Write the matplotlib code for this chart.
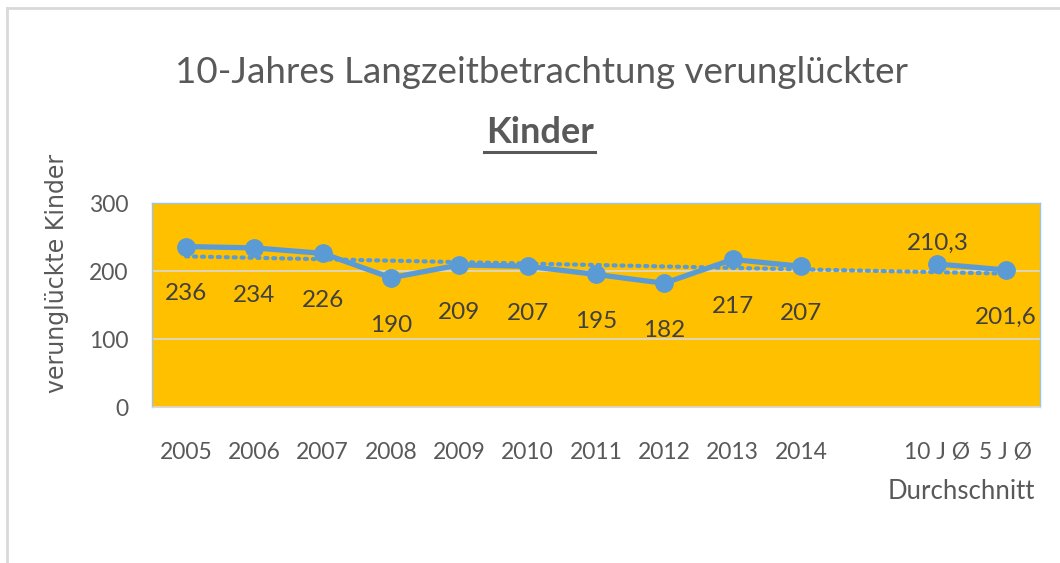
import numpy as np
import matplotlib
matplotlib.use("Agg")
import matplotlib.pyplot as plt
from matplotlib.lines import Line2D

# data
categories = ["2005", "2006", "2007", "2008", "2009", "2010", "2011",
              "2012", "2013", "2014", "", "10 J Ø", "5 J Ø"]
values = [236, 234, 226, 190, 209, 207, 195, 182, 217, 207, np.nan, 210.3, 201.6]
value_labels = ["236", "234", "226", "190", "209", "207", "195", "182",
                "217", "207", "", "210,3", "201,6"]
yticks = [0, 100, 200, 300]

BLUE = "#5B9BD5"
ORANGE = "#FFC000"
TXT = "#595959"
LBL = "#404040"

plt.rcParams["font.family"] = ["Lato", "DejaVu Sans"]

fig = plt.figure(figsize=(10.6, 5.63), dpi=100)
ax = fig.add_axes([0.1434, 0.277, 0.8376, 0.3624])
ax.set_facecolor(ORANGE)

x = np.arange(len(categories))
y = np.array(values, dtype=float)

# linear trendline over the existing points
ok = ~np.isnan(y)
k, d = np.polyfit(x[ok], y[ok], 1)
xt = np.array([x[ok][0], x[ok][-1]])
ax.plot(xt, k * xt + d, color=BLUE, lw=3.0, linestyle=(0, (0.5, 1.4)),
        dash_capstyle="round", zorder=2)

ax.plot(x, y, color=BLUE, lw=3.8, marker="o", markersize=12.5, zorder=3)

for xi, yi, s in zip(x, y, value_labels):
    if not s:
        continue
    off = 15 if s == "210,3" else -34
    ax.annotate(s, (xi, yi), xytext=(0, off), textcoords="offset points",
                ha="center", va="center", fontsize=17.5, color=LBL)

ax.set_xlim(-0.5, len(categories) - 0.5)
ax.set_ylim(0, 300)
ax.set_yticks(yticks)
ax.set_xticks(x)
ax.set_xticklabels(categories)
ax.tick_params(axis="x", length=0, pad=25, labelsize=16.5, labelcolor=TXT)
ax.tick_params(axis="y", length=0, pad=17, labelsize=16.5, labelcolor=TXT)
ax.yaxis.grid(True, color="#D9D9D9", lw=1.2)
ax.set_axisbelow(True)
for side in ["left", "top", "right"]:
    ax.spines[side].set_color("#9DC3E6")
    ax.spines[side].set_linewidth(1)
ax.spines["bottom"].set_color("#D9D9D9")

ax.text(0.911, -0.355, "Durchschnitt", transform=ax.transAxes, ha="center",
        va="top", fontsize=18.5, color=TXT)

fig.text(0.054, 0.515, "verunglückte Kinder", rotation=90, ha="center",
         va="center", fontsize=17, color=TXT, family="DejaVu Sans")

fig.text(0.511, 0.872, "10-Jahres Langzeitbetrachtung verunglückter",
         ha="center", va="center", fontsize=26.5, color=TXT)
fig.text(0.509, 0.764, "Kinder", ha="center", va="center", fontsize=26,
         color=TXT, fontweight="bold")
fig.add_artist(Line2D([0.457, 0.561], [0.73, 0.73], color=TXT, lw=2.2,
                      transform=fig.transFigure))

# chart frame (left and top edges visible)
fig.add_artist(Line2D([0.0066, 0.0066], [0.0, 0.986], color="#D9D9D9", lw=2,
                      transform=fig.transFigure))
fig.add_artist(Line2D([0.0066, 1.0], [0.986, 0.986], color="#D9D9D9", lw=2,
                      transform=fig.transFigure))

fig.savefig("out.png", dpi=100)
